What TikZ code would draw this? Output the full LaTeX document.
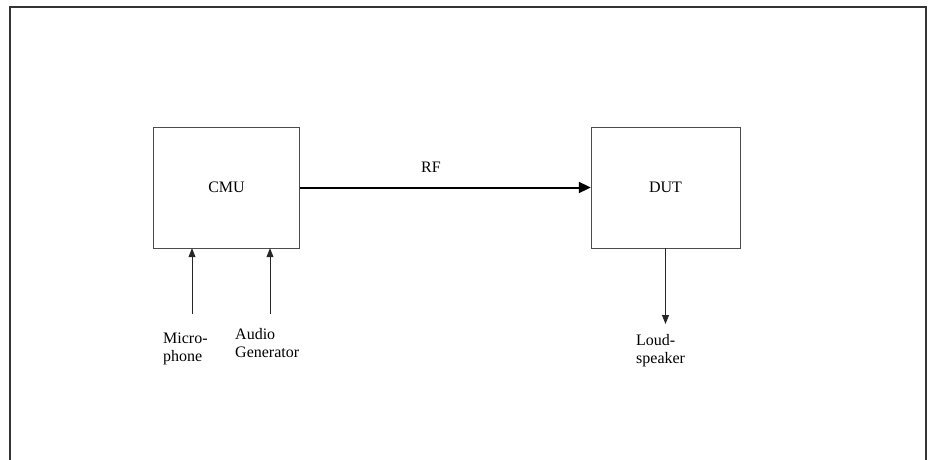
\documentclass[tikz,border=0pt]{standalone}
\usepackage{fontspec}
\setmainfont{Liberation Serif}
\usetikzlibrary{arrows.meta, positioning}
\tikzset{
  txt/.style = {font=\fontsize{16}{18}\selectfont},
  block/.style = {txt, draw=black!70, thin, inner sep=0pt,
    minimum width=146pt, minimum height=121pt},
  lbl/.style = {txt, align=left, inner sep=0pt, anchor=north west},
  sig/.style = {black!85, line width=0.8pt}
}
\begin{document}
\begin{tikzpicture}[x=1pt, y=-1pt, ->, >={Triangle[length=9pt,width=7pt]}]
\useasboundingbox (0,0) rectangle (930,460);
\draw [-, line width=1.4pt, black!80] (10,470) -- (10,7) -- (926,7) -- (926,470);
\node [block] (cmu) at (226.5,187.5) {CMU};
\node [block, minimum width=149pt] (dut) at (665.5,187.5) {DUT};
\node [txt, inner sep=0pt] (rf) at (431,167) {RF};
\draw [line width=2pt, -{Triangle[length=12pt,width=11pt]}] (cmu) -- (dut);
% inputs and output
\coordinate (mic) at (192,314);
\coordinate (gen) at (270,314);
\coordinate (spk) at (665.5,324);
\draw [sig] (mic) -- (mic |- cmu.south);
\draw [sig] (gen) -- (gen |- cmu.south);
\draw [sig] (dut) -- (spk);
\node [lbl] (miclbl) at (163,333) {Micro-\\phone};
\node [lbl] (genlbl) at (235,328) {Audio\\Generator};
\node [lbl] (spklbl) at (636,334) {Loud-\\speaker};
\end{tikzpicture}
\end{document}
